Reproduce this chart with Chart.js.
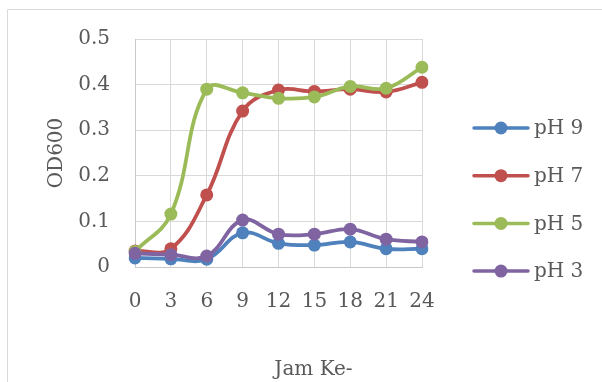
<!DOCTYPE html>
<html>
<head>
<meta charset="utf-8">
<script src="https://cdn.jsdelivr.net/npm/chart.js@4/dist/chart.umd.min.js"></script>
<style>
  html, body { margin: 0; padding: 0; background: #fff; }
  #wrap { width: 602px; height: 382px; }
</style>
</head>
<body>
<div id="wrap"><canvas id="odChart"></canvas></div>
<script>
const JAM = ['0', '3', '6', '9', '12', '15', '18', '21', '24'];
const PH9 = [0.020, 0.018, 0.017, 0.075, 0.052, 0.048, 0.055, 0.040, 0.040];
const PH7 = [0.035, 0.040, 0.158, 0.342, 0.388, 0.385, 0.390, 0.384, 0.405];
const PH5 = [0.034, 0.116, 0.390, 0.382, 0.370, 0.373, 0.396, 0.392, 0.438];
const PH3 = [0.030, 0.027, 0.024, 0.103, 0.072, 0.072, 0.083, 0.061, 0.055];
const X_TITLE = 'Jam Ke-';

const SERIES = [
    { label: 'pH 9', data: PH9, color: '#4F81BD' },
    { label: 'pH 7', data: PH7, color: '#C0504D' },
    { label: 'pH 5', data: PH5, color: '#9BBB59' },
    { label: 'pH 3', data: PH3, color: '#8064A2' }
];

const FONT = { family: '"DejaVu Serif", serif', size: 20 };
const TEXT = '#595959';
const GRID = '#d9d9d9';

// light frame around the chart (top and left edges show)
const framePlugin = {
    id: 'frame',
    beforeDraw(chart) {
        const ctx = chart.ctx;
        ctx.save();
        ctx.strokeStyle = '#d9d9d9';
        ctx.lineWidth = 1;
        ctx.beginPath();
        ctx.moveTo(7.5, chart.height);
        ctx.lineTo(7.5, 9.5);
        ctx.lineTo(chart.width, 9.5);
        ctx.stroke();
        ctx.restore();
    }
};

// x axis title sits centred under the whole chart block, not just the plot
const xTitle = {
    id: 'xTitle',
    afterDraw(chart) {
        const ctx = chart.ctx;
        const area = chart.chartArea;
        ctx.save();
        ctx.font = FONT.size + 'px ' + FONT.family;
        ctx.fillStyle = TEXT;
        ctx.textAlign = 'center';
        ctx.textBaseline = 'middle';
        ctx.fillText(X_TITLE, (area.left + area.right) / 2 + 35, chart.scales.x.bottom - 12);
        ctx.restore();
    }
};

// legend on the right: short line with a marker, then the label
const lineLegend = {
    id: 'lineLegend',
    afterDraw(chart) {
        const ctx = chart.ctx;
        const area = chart.chartArea;
        const x0 = area.right + 52;
        const gap = 47.7;
        ctx.save();
        ctx.font = FONT.size + 'px ' + FONT.family;
        ctx.textBaseline = 'middle';
        ctx.textAlign = 'left';
        chart.data.datasets.forEach((ds, i) => {
            const y = area.top + 89 + i * gap;
            ctx.strokeStyle = ds.borderColor;
            ctx.lineWidth = 3.5;
            ctx.lineCap = 'round';
            ctx.beginPath();
            ctx.moveTo(x0, y);
            ctx.lineTo(x0 + 54, y);
            ctx.stroke();
            ctx.fillStyle = ds.backgroundColor;
            ctx.beginPath();
            ctx.arc(x0 + 27, y, 6.5, 0, Math.PI * 2);
            ctx.fill();
            ctx.fillStyle = TEXT;
            ctx.fillText(ds.label, x0 + 60, y + 1);
        });
        ctx.restore();
    }
};

new Chart(document.getElementById('odChart'), {
    type: 'line',
    data: {
        labels: JAM,
        datasets: SERIES.map((s, i) => ({
            label: s.label,
            data: s.data,
            borderColor: s.color,
            backgroundColor: s.color,
            pointBackgroundColor: s.color,
            pointBorderColor: s.color,
            pointRadius: 6.5,
            pointBorderWidth: 0,
            borderWidth: 3.8,
            tension: 0.4,
            order: SERIES.length - i
        }))
    },
    options: {
        responsive: true,
        maintainAspectRatio: false,
        animation: false,
        layout: { padding: { left: 41, right: 180, top: 39, bottom: 0 } },
        plugins: {
            legend: { display: false },
            tooltip: { enabled: false }
        },
        scales: {
            x: {
                offset: false,
                afterFit: s => { s.height = 115; },
                grid: { color: GRID, drawTicks: false },
                border: { color: '#c8c8c8', width: 1 },
                ticks: { color: TEXT, font: FONT, padding: 23, maxRotation: 0 },
                title: { display: false }
            },
            y: {
                min: 0,
                max: 0.5,
                afterFit: s => { s.width = 94; },
                grid: { color: GRID, drawTicks: false },
                border: { color: '#c8c8c8', width: 1 },
                ticks: { stepSize: 0.1, color: TEXT, font: FONT, padding: 25 },
                title: { display: true, text: 'OD600', color: TEXT, font: FONT, padding: 4 }
            }
        }
    },
    plugins: [framePlugin, xTitle, lineLegend]
});
</script>
</body>
</html>
